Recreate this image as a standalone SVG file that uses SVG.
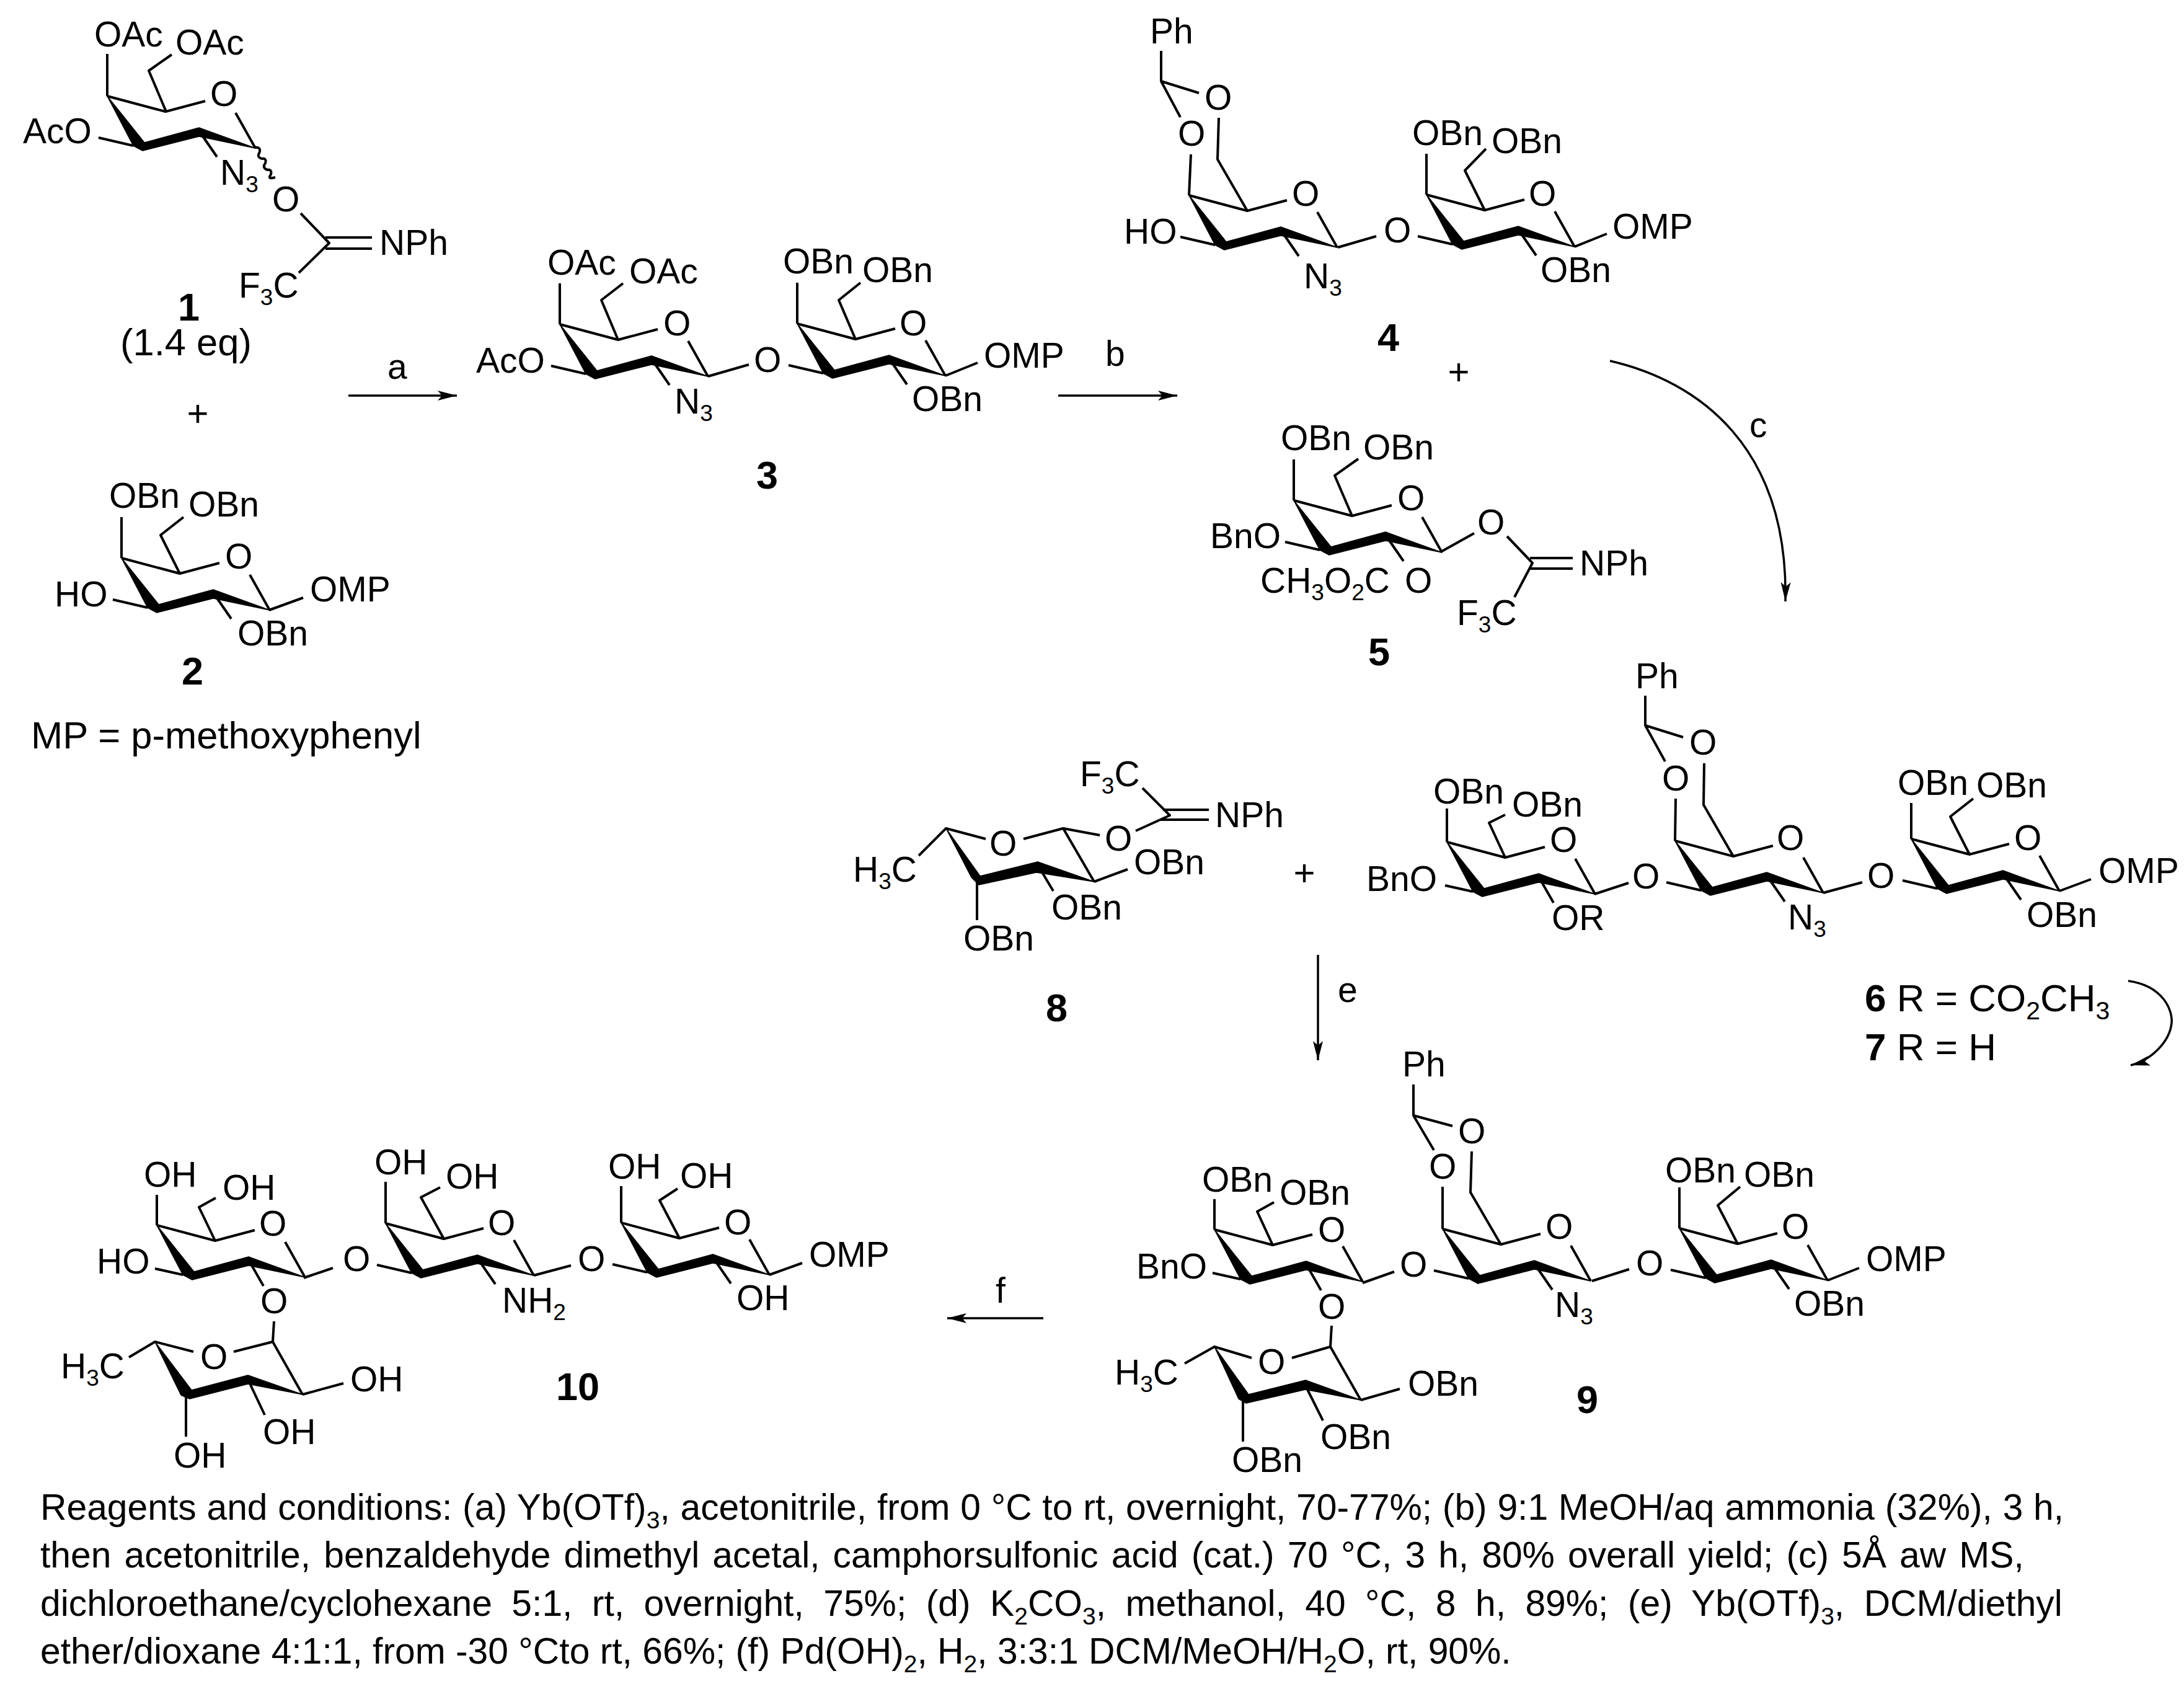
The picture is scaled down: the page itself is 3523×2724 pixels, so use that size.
<svg xmlns="http://www.w3.org/2000/svg" width="3523" height="2724" viewBox="0 0 3523 2724">
<style>
text{font-family:"Liberation Sans",Arial,sans-serif;fill:#000}
.a text{font-size:57px}
.s{font-size:37px}
.a text.n{font-size:63px;font-weight:700}
.a text.l{font-size:61.5px}
.r{font-size:41px}
.p{font-size:58.8px}
.ps{font-size:39px}
.b{fill:none;stroke:#000;stroke-width:4;stroke-linejoin:round;stroke-linecap:butt}
.w{fill:#000;stroke:#000;stroke-width:1.5;stroke-linejoin:round}
.arr{fill:none;stroke:#000;stroke-width:3.5;marker-end:url(#head)}
</style>
<defs>
<marker id="head" markerUnits="userSpaceOnUse" markerWidth="34" markerHeight="20" viewBox="0 -10 34 20" refX="31" refY="0" orient="auto"><path d="M0,-8 L31,0 L0,8 L7,0 Z" fill="#000"/></marker>
<g id="core">
<polygon class="w" points="0,0 60,75 148,51 239,84 148,65 57,88 42,80"/>
<path class="b" d="M0,0 L94,25 L158,8 M207,27 L239,84"/>
</g>
<g id="ring"><use href="#core"/><path class="b" d="M42,80 L-14,67 M148,56 L177,98"/></g>
<g id="ring-short"><use href="#core"/><path class="b" d="M42,80 L-3,70 M148,56 L172,98"/></g>
</defs>
<rect width="3523" height="2724" fill="#fff"/>

<g id="compound-1" class="a">
<use href="#ring" x="173" y="155"/>
<path class="b" d="M173,155 V87 M268,180 L240,114 L277,88 M485,344 L531,392 L482,440 M525,383 H600 M525,401 H600"/>
<path class="b" stroke-width="3" d="M412,238 c6,-1 9,3 6,9 c-3,5 0,8 5,9 c6,-1 7,4 4,9 c-3,4 0,8 5,9 c5,-1 7,4 4,9 c-3,5 0,5 8,3"/>
<text x="152" y="75">OAc</text><text x="283" y="88">OAc</text><text x="339" y="171">O</text><text x="37" y="231">AcO</text>
<text x="355" y="298">N<tspan class="s" dy="12">3</tspan></text><text x="439" y="341">O</text><text x="612" y="411">NPh</text>
<text x="385" y="480">F<tspan class="s" dy="12">3</tspan><tspan dy="-12">C</tspan></text>
<text class="n" x="287" y="517">1</text><text class="l" x="194" y="573">(1.4 eq)</text>
</g>

<g id="compound-2" class="a">
<use href="#ring" x="196" y="900"/>
<path class="b" d="M196,900 V834 M290,925 L259,863 L296,834 M434,984 L489,964"/>
<text x="176" y="819">OBn</text><text x="304" y="833">OBn</text><text x="363" y="917">O</text><text x="88" y="978">HO</text><text x="500" y="970">OMP</text><text x="383" y="1041">OBn</text>
<text class="n" x="293" y="1104">2</text>
<text class="l" x="50" y="1207">MP = p-methoxyphenyl</text>
</g>

<g id="compound-3" class="a">
<use href="#ring" x="903" y="523"/><use href="#ring" x="1286" y="522"/>
<path class="b" d="M903,523 V457 M997,548 L970,484 L1005,457 M1142,607 L1208,588 M1286,522 V456 M1380,547 L1353,484 L1388,456 M1525,606 L1577,585"/>
<text x="883" y="443">OAc</text><text x="1015" y="457">OAc</text><text x="1070" y="541">O</text><text x="768" y="601">AcO</text><text x="1088" y="667">N<tspan class="s" dy="12">3</tspan></text><text x="1216" y="600">O</text>
<text x="1263" y="441">OBn</text><text x="1391" y="455">OBn</text><text x="1451" y="541">O</text><text x="1587" y="593">OMP</text><text x="1471" y="663">OBn</text>
<text class="n" x="1220" y="788">3</text>
</g>

<g id="compound-4" class="a">
<use href="#ring" x="1918" y="315"/><use href="#ring" x="2301" y="314"/>
<path class="b" d="M1873,82 V131 L1934,150 M1873,131 L1904,189 M1918,315 L1921,249 M1966,190 L1964,257 L2012,340 M2158,399 L2220,381 M2301,314 V248 M2395,339 L2363,275 L2397,240 M2540,398 L2592,377"/>
<text x="1855" y="70">Ph</text><text x="1943" y="177">O</text><text x="1900" y="235">O</text><text x="2084" y="332">O</text><text x="1813" y="393">HO</text><text x="2103" y="465">N<tspan class="s" dy="12">3</tspan></text><text x="2232" y="391">O</text>
<text x="2278" y="234">OBn</text><text x="2406" y="247">OBn</text><text x="2466" y="332">O</text><text x="2601" y="385">OMP</text><text x="2485" y="455">OBn</text>
<text class="n" x="2222" y="566">4</text>
</g>

<g id="compound-5" class="a">
<use href="#ring" x="2087" y="807"/>
<path class="b" d="M2087,807 V741 M2181,832 L2153,767 L2191,740 M2326,889 L2378,860 M2431,865 L2472,908 L2443,963 M2468,900 H2537 M2468,917 H2537"/>
<text x="2066" y="726">OBn</text><text x="2199" y="741">OBn</text><text x="2254" y="823">O</text><text x="1952" y="884">BnO</text>
<text x="2033" y="956">CH<tspan class="s" dy="12">3</tspan><tspan dy="-12">O</tspan><tspan class="s" dy="12">2</tspan><tspan dy="-12">C</tspan></text><text x="2266" y="956">O</text>
<text x="2383" y="862">O</text><text x="2548" y="928">NPh</text><text x="2350" y="1008">F<tspan class="s" dy="12">3</tspan><tspan dy="-12">C</tspan></text>
<text class="n" x="2207" y="1073">5</text>
</g>

<g id="compound-8" class="a">
<polygon class="w" points="1526,1336 1581,1413 1674,1390 1765,1422 1672,1407 1579,1427 1567,1415"/>
<path class="b" d="M1482,1380 L1526,1336 L1590,1353 M1651,1353 L1715,1336 L1765,1422 M1715,1336 L1774,1347 M1576,1423 V1484 M1674,1395 L1699,1437 M1765,1422 L1819,1402 M1832,1340 L1887,1315 L1843,1271 M1876,1306 H1950 M1871,1322 H1950"/>
<text x="1376" y="1422">H<tspan class="s" dy="12">3</tspan><tspan dy="-12">C</tspan></text><text x="1596" y="1380">O</text><text x="1554" y="1533">OBn</text><text x="1696" y="1483">OBn</text><text x="1829" y="1410">OBn</text><text x="1782" y="1372">O</text><text x="1960" y="1334">NPh</text>
<text x="1742" y="1268">F<tspan class="s" dy="12">3</tspan><tspan dy="-12">C</tspan></text>
<text class="n" x="1687" y="1647">8</text>
</g>

<g id="compound-6-7" class="a">
<use href="#ring-short" x="2334" y="1358"/><use href="#ring" x="2702" y="1356"/><use href="#ring" x="3083" y="1353"/>
<path class="b" d="M2334,1358 V1304 M2428,1383 L2402,1327 L2428,1314 M2572,1442 L2627,1424 M2654,1122 V1170 L2715,1189 M2654,1170 L2686,1228 M2702,1356 L2703,1288 M2749,1231 L2748,1298 L2796,1381 M2941,1440 L3004,1423 M3083,1353 V1295 M3177,1378 L3146,1317 L3183,1288 M3322,1437 L3373,1418"/>
<text x="2312" y="1296">OBn</text><text x="2439" y="1317">OBn</text><text x="2500" y="1374">O</text><text x="2204" y="1437">BnO</text><text x="2503" y="1500">OR</text><text x="2633" y="1433">O</text>
<text x="2638" y="1110">Ph</text><text x="2725" y="1217">O</text><text x="2681" y="1275">O</text><text x="2866" y="1371">O</text><text x="2884" y="1499">N<tspan class="s" dy="12">3</tspan></text><text x="3012" y="1432">O</text>
<text x="3061" y="1282">OBn</text><text x="3188" y="1286">OBn</text><text x="3249" y="1371">O</text><text x="3385" y="1424">OMP</text><text x="3269" y="1495">OBn</text>
<text class="l" x="3008" y="1631" style="font-size:62px"><tspan font-weight="700">6</tspan> R = CO<tspan class="r" dy="13">2</tspan><tspan dy="-13">CH</tspan><tspan class="r" dy="13">3</tspan></text>
<text class="l" x="3008" y="1710" style="font-size:62px"><tspan font-weight="700">7</tspan> R = H</text>
</g>

<g id="compound-9" class="a">
<use href="#ring-short" x="1959" y="1983"/><use href="#ring" x="2327" y="1982"/><use href="#ring" x="2709" y="1981"/>
<polygon class="w" points="1959,2172 2014,2249 2106,2226 2195,2258 2106,2241 2010,2263 1998,2256"/>
<path class="b" d="M1959,1983 V1934 M2053,2008 L2028,1954 L2055,1939 M2198,2069 L2249,2051 M2148,2138 L2146,2172 M2280,1749 V1799 L2343,1816 M2280,1799 L2313,1855 M2327,1982 V1914 M2374,1857 L2372,1923 L2421,2007 M2568,2066 L2628,2047 M2709,1981 V1915 M2803,2006 L2771,1944 L2807,1914 M2948,2065 L2999,2045"/>
<path class="b" d="M1911,2199 L1959,2172 L2019,2190 M2084,2190 L2146,2172 L2195,2258 M2005,2260 V2325 M2106,2235 L2134,2291 M2195,2258 L2258,2240"/>
<text x="1939" y="1922">OBn</text><text x="2064" y="1943">OBn</text><text x="2126" y="2003">O</text><text x="1833" y="2062">BnO</text><text x="2258" y="2059">O</text><text x="2126" y="2127">O</text>
<text x="2262" y="1736">Ph</text><text x="2352" y="1844">O</text><text x="2305" y="1901">O</text><text x="2493" y="1998">O</text><text x="2508" y="2124">N<tspan class="s" dy="12">3</tspan></text><text x="2639" y="2057">O</text>
<text x="2686" y="1907">OBn</text><text x="2813" y="1914">OBn</text><text x="2874" y="1998">O</text><text x="3010" y="2050">OMP</text><text x="2894" y="2122">OBn</text>
<text x="1798" y="2233">H<tspan class="s" dy="12">3</tspan><tspan dy="-12">C</tspan></text><text x="2029" y="2216">O</text><text x="1987" y="2374">OBn</text><text x="2130" y="2337">OBn</text><text x="2271" y="2251">OBn</text>
<text class="n" x="2543" y="2279">9</text>
</g>

<g id="compound-10" class="a">
<use href="#ring-short" x="253" y="1976"/><use href="#ring" x="622" y="1973"/><use href="#ring" x="1002" y="1972"/>
<polygon class="w" points="250,2164 309,2242 400,2218 488,2249 400,2232 306,2256 292,2250"/>
<path class="b" d="M253,1976 V1927 M347,2001 L321,1947 L348,1932 M490,2061 L537,2045 M442,2131 L440,2164 M622,1973 V1906 M716,1998 L679,1931 L710,1915 M861,2057 L921,2041 M1002,1972 V1913 M1096,1997 L1064,1936 L1093,1917 M1241,2056 L1294,2037"/>
<path class="b" d="M208,2189 L250,2164 L312,2180 M377,2180 L440,2164 L488,2249 M300,2252 V2317 M400,2225 L427,2282 M488,2249 L554,2231"/>
<text x="232" y="1914">OH</text><text x="359" y="1935">OH</text><text x="418" y="1993">O</text><text x="156" y="2054">HO</text><text x="553" y="2050">O</text><text x="420" y="2118">O</text>
<text x="604" y="1894">OH</text><text x="719" y="1917">OH</text><text x="787" y="1992">O</text><text x="810" y="2117">NH<tspan class="s" dy="12">2</tspan></text><text x="932" y="2050">O</text>
<text x="981" y="1901">OH</text><text x="1097" y="1916">OH</text><text x="1168" y="1991">O</text><text x="1305" y="2043">OMP</text><text x="1188" y="2113">OH</text>
<text x="98" y="2223">H<tspan class="s" dy="12">3</tspan><tspan dy="-12">C</tspan></text><text x="323" y="2208">O</text><text x="280" y="2367">OH</text><text x="424" y="2329">OH</text><text x="565" y="2244">OH</text>
<text class="n" x="897" y="2258">10</text>
</g>

<g id="connectors">
<path class="arr" d="M562,638 H737"/>
<path class="arr" d="M1707,638 H1899"/>
<path class="arr" d="M2597,582 C2740,615 2885,720 2880,970"/>
<path class="arr" d="M3433,1582 C3490,1590 3505,1630 3503,1650 C3500,1680 3470,1710 3437,1718"/>
<path class="arr" d="M2126,1540 V1710"/>
<path class="arr" d="M1683,2126 H1528"/>
<g class="a">
<text x="625" y="611">a</text><text x="1783" y="590">b</text><text x="2822" y="705">c</text><text x="2158" y="1616">e</text><text x="1606" y="2101">f</text>
</g>
</g>

<g id="plus-signs">
<text x="319" y="687" text-anchor="middle" style="font-size:60px">+</text>
<text x="2353" y="620" text-anchor="middle" style="font-size:60px">+</text>
<text x="2104" y="1428" text-anchor="middle" style="font-size:60px">+</text>
</g>

<g id="conditions">
<text class="p" x="65" y="2451" word-spacing="0.4">Reagents and conditions: (a) Yb(OTf)<tspan class="ps" dy="14">3</tspan><tspan dy="-14">, acetonitrile, from 0 °C to rt, overnight, 70-77%; (b) 9:1 MeOH/aq ammonia (32%), 3 h,</tspan></text>
<text class="p" x="65" y="2528" word-spacing="4.7">then acetonitrile, benzaldehyde dimethyl acetal, camphorsulfonic acid (cat.) 70 °C, 3 h, 80% overall yield; (c) 5Å aw MS,</text>
<text class="p" x="65" y="2606" word-spacing="15.1">dichloroethane/cyclohexane 5:1, rt, overnight, 75%; (d) K<tspan class="ps" dy="14">2</tspan><tspan dy="-14">CO</tspan><tspan class="ps" dy="14">3</tspan><tspan dy="-14">, methanol, 40 °C, 8 h, 89%; (e) Yb(OTf)</tspan><tspan class="ps" dy="14">3</tspan><tspan dy="-14">, DCM/diethyl</tspan></text>
<text class="p" x="65" y="2683">ether/dioxane 4:1:1, from -30 °Cto rt, 66%; (f) Pd(OH)<tspan class="ps" dy="14">2</tspan><tspan dy="-14">, H</tspan><tspan class="ps" dy="14">2</tspan><tspan dy="-14">, 3:3:1 DCM/MeOH/H</tspan><tspan class="ps" dy="14">2</tspan><tspan dy="-14">O, rt, 90%.</tspan></text>
</g>
</svg>
